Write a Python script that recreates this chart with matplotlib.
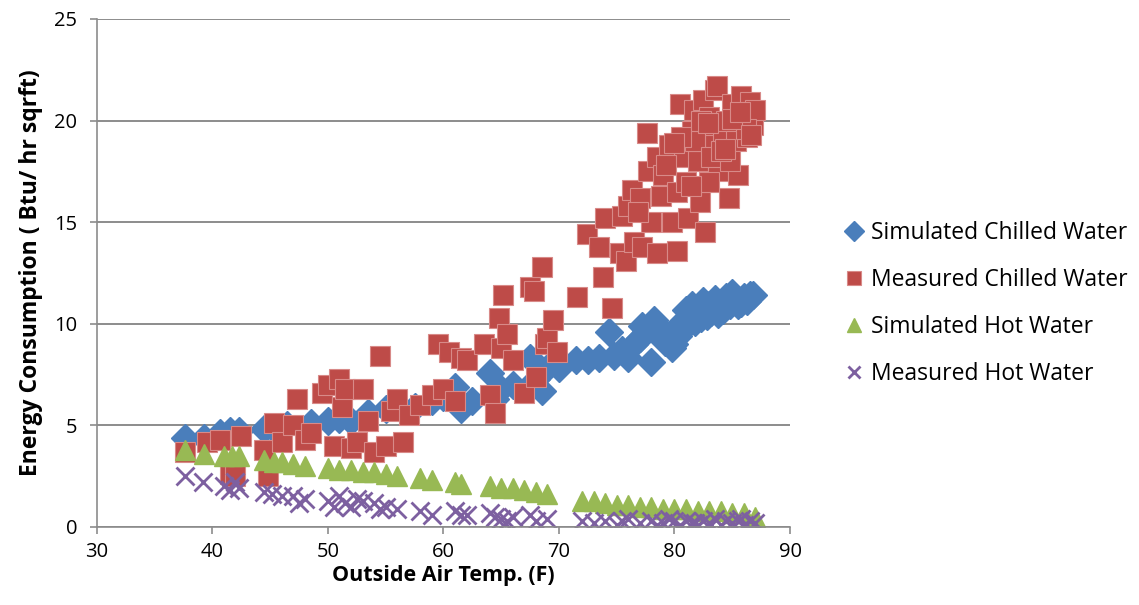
import matplotlib
matplotlib.use("Agg")
import matplotlib.pyplot as plt

# Outside air temperature (F) / energy use (Btu/hr sqft)
sim_chw_t = [37.6, 39.3, 40.7, 41.5, 42.3, 44.5, 45.2, 46.5, 48.5, 50.0, 51.0, 52.0,
             53.5, 55.0, 56.0, 57.5, 59.0, 60.0, 61.0, 61.5, 62.5, 64.0, 64.5, 65.0,
             66.0, 67.5, 68.0, 68.5, 69.0, 70.0, 71.5, 72.5, 73.5, 74.3, 74.8, 75.5,
             76.0, 76.5, 77.0, 77.5, 78.0, 78.2, 79.0, 79.5, 80.0, 80.5, 81.0, 81.5,
             82.0, 82.5, 83.0, 83.5, 84.0, 84.5, 85.0, 85.5, 86.0, 86.5, 86.8, 80.3,
             81.2, 82.8, 84.2, 79.8, 77.2, 81.8, 83.2, 84.8, 85.8, 80.8, 82.3, 83.8,
             85.3, 86.3, 79.2, 78.6]
sim_chw_v = [4.4, 4.4, 4.6, 4.7, 4.7, 4.8, 4.9, 5.0, 5.1, 5.2, 5.3, 5.2,
             5.6, 5.8, 6.0, 5.9, 6.2, 6.4, 6.9, 5.8, 6.2, 7.6, 6.3, 6.8,
             7.0, 8.3, 7.3, 6.7, 7.8, 7.8, 8.2, 8.2, 8.3, 9.6, 8.4, 8.7,
             8.3, 9.0, 9.3, 9.7, 8.1, 10.2, 9.6, 9.3, 9.0, 10.0, 10.7, 10.9,
             10.5, 11.1, 10.9, 11.2, 11.0, 11.3, 11.5, 10.9, 11.3, 11.4, 11.4, 9.4,
             10.2, 10.4, 10.7, 8.8, 9.9, 10.1, 10.6, 10.9, 11.0, 9.8, 10.3, 10.5,
             11.2, 11.1, 9.1, 9.9]

meas_chw_t = [37.6, 39.5, 40.7, 41.5, 42.0, 42.5, 44.5, 44.8, 45.3, 46.0, 47.0, 47.3,
              48.0, 48.5, 49.5, 50.0, 50.5, 51.0, 51.2, 51.5, 52.0, 52.5, 53.0, 53.5,
              54.0, 54.5, 55.0, 55.5, 56.0, 56.5, 57.0, 58.0, 59.0, 59.5, 60.0, 60.5,
              61.0, 61.5, 62.0, 63.5, 64.0, 64.5, 64.8, 65.0, 65.2, 65.5, 66.0, 67.0,
              67.5, 67.8, 68.0, 68.5, 68.8, 69.0, 69.5, 69.8, 71.6, 72.4, 73.8, 73.5,
              74.0, 74.6, 75.3, 75.5, 75.8, 76.0, 76.3, 76.5, 77.0, 77.2, 77.6, 77.7,
              78.0, 78.5, 78.5, 78.8, 79.0, 79.5, 79.8, 80.2, 80.2, 80.5, 80.8, 81.0,
              81.2, 81.5, 81.7, 82.0, 82.2, 82.5, 82.6, 82.7, 83.0, 83.5, 83.5, 83.7,
              83.8, 84.2, 84.5, 84.7, 85.0, 85.3, 85.5, 85.8, 86.0, 86.3, 86.5, 86.8,
              87.0, 81.8, 83.2, 84.8, 86.2, 79.3, 80.6, 82.3, 83.0, 84.0, 85.0, 86.6,
              81.4, 82.9, 84.4, 85.7, 80.0, 76.8]
meas_chw_v = [3.7, 4.2, 4.3, 2.6, 2.5, 4.5, 3.8, 2.5, 5.1, 4.2, 5.0, 6.3,
              4.3, 4.6, 6.6, 7.0, 4.0, 7.3, 5.9, 6.8, 3.9, 4.2, 6.8, 5.2,
              3.7, 8.4, 4.0, 5.7, 6.3, 4.2, 5.5, 6.0, 6.5, 9.0, 6.8, 8.6,
              6.2, 8.3, 8.2, 9.0, 6.5, 5.6, 10.3, 8.8, 11.4, 9.5, 8.2, 6.6,
              11.8, 11.6, 7.4, 12.8, 9.0, 9.3, 10.2, 8.6, 11.3, 14.4, 12.3, 13.8,
              15.2, 10.8, 13.5, 15.3, 13.1, 15.8, 16.6, 14.0, 16.2, 13.8, 19.4, 17.5,
              15.0, 18.2, 13.5, 16.3, 17.3, 18.8, 15.0, 16.5, 13.6, 20.8, 18.2, 17.0,
              15.2, 19.5, 20.5, 18.0, 16.0, 21.0, 14.5, 19.3, 20.2, 21.5, 18.8, 21.7,
              17.5, 19.5, 20.0, 16.2, 20.8, 19.0, 17.3, 21.2, 20.3, 19.2, 20.9, 19.8,
              20.5, 19.0, 18.2, 18.0, 19.6, 17.8, 19.2, 20.0, 17.0, 18.5, 20.1, 19.3,
              16.8, 19.9, 18.6, 20.4, 18.9, 15.5]

sim_hw_t = [37.6, 39.3, 41.0, 41.7, 42.3, 44.5, 45.3, 46.0, 47.0, 48.0, 50.0, 51.0,
            52.0, 53.0, 54.0, 55.0, 56.0, 58.0, 59.0, 61.0, 61.5, 64.0, 65.0, 66.0,
            67.0, 68.0, 69.0, 72.0, 73.0, 74.0, 75.0, 76.0, 77.0, 78.0, 79.0, 80.0,
            81.0, 82.0, 83.0, 84.0, 85.0, 86.0, 87.0]
sim_hw_v = [3.8, 3.6, 3.5, 3.5, 3.5, 3.3, 3.2, 3.2, 3.1, 3.0, 2.9, 2.8,
            2.8, 2.7, 2.7, 2.6, 2.5, 2.4, 2.3, 2.2, 2.1, 2.0, 1.9, 1.9,
            1.8, 1.7, 1.6, 1.3, 1.3, 1.2, 1.1, 1.1, 1.0, 1.0, 0.9, 0.9,
            0.9, 0.8, 0.8, 0.8, 0.7, 0.7, 0.5]

meas_hw_t = [37.6, 39.2, 41.0, 41.5, 42.0, 42.3, 44.5, 45.2, 46.0, 47.0, 48.0, 50.0,
             51.0, 51.5, 52.0, 53.0, 54.0, 55.0, 56.0, 58.0, 59.0, 61.0, 61.5, 64.0,
             64.5, 65.0, 66.0, 67.5, 68.0, 69.0, 72.0, 73.0, 74.0, 75.0, 76.0, 77.0,
             78.0, 78.5, 79.0, 80.0, 80.5, 81.0, 81.5, 82.0, 82.5, 83.0, 83.5, 84.0,
             84.5, 85.0, 85.5, 86.0, 86.5, 87.0, 47.5, 50.5, 52.5, 54.5, 62.0, 65.5,
             75.5, 79.5, 81.8, 83.2, 85.8]
meas_hw_v = [2.5, 2.2, 2.0, 1.8, 2.2, 1.9, 1.7, 1.6, 1.5, 1.5, 1.4, 1.3,
             1.5, 1.2, 1.0, 1.3, 1.2, 1.0, 0.9, 0.8, 0.6, 0.8, 0.6, 0.7,
             0.5, 0.4, 0.5, 0.6, 0.3, 0.4, 0.3, 0.2, 0.3, 0.1, 0.4, 0.2,
             0.3, 0.1, 0.2, 0.3, 0.1, 0.3, 0.2, 0.1, 0.3, 0.2, 0.4, 0.1,
             0.3, 0.2, 0.3, 0.1, 0.3, 0.2, 1.2, 1.0, 1.4, 0.9, 0.6, 0.3,
             0.3, 0.4, 0.2, 0.1, 0.4]

FONT = ["Open Sans", "DejaVu Sans"]
plt.rcParams["font.family"] = FONT

fig = plt.figure(figsize=(11.39, 6.05), dpi=100)
ax = fig.add_axes([0.085, 0.129, 0.6086, 0.8396])

ax.plot(sim_chw_t, sim_chw_v, "D", ms=14, color="#4A7EBB", mec="#4A7EBB",
        label="Simulated Chilled Water")
ax.plot(meas_chw_t, meas_chw_v, "s", ms=15, color="#BE4B48", mec="#D88A88",
        mew=0.8, label="Measured Chilled Water")
ax.plot(sim_hw_t, sim_hw_v, "^", ms=14.5, color="#98B954", mec="#98B954",
        label="Simulated Hot Water")
ax.plot(meas_hw_t, meas_hw_v, "x", ms=13, mew=2, color="#7D60A0",
        label="Measured Hot Water")

ax.set_xlim(30, 90)
ax.set_ylim(0, 25)
ax.set_xticks(range(30, 91, 10))
ax.set_yticks(range(0, 26, 5))
ax.yaxis.grid(True, color="#8C8C8C", linewidth=1.4)
ax.set_axisbelow(True)
for s in ("top", "right"):
    ax.spines[s].set_visible(False)
for s in ("left", "bottom"):
    ax.spines[s].set_color("#8C8C8C")
    ax.spines[s].set_linewidth(1.2)
ax.tick_params(colors="#8C8C8C", labelcolor="black", labelsize=14.5, length=5, width=1.2)
ax.tick_params(axis="y", pad=9)
ax.tick_params(axis="x", pad=6)

ax.set_xlabel("Outside Air Temp. (F)", fontsize=15.5, fontweight="bold", labelpad=2)
ax.set_ylabel("Energy Consumption ( Btu/ hr sqrft)", fontsize=16.5, fontweight="bold", labelpad=8)

leg = ax.legend(loc="center left", bbox_to_anchor=(1.05, 0.44), frameon=False,
                fontsize=16.5, markerscale=0.7, handlelength=0.8, handletextpad=0.3,
                labelspacing=1.0)

fig.savefig("out.png", dpi=100)
